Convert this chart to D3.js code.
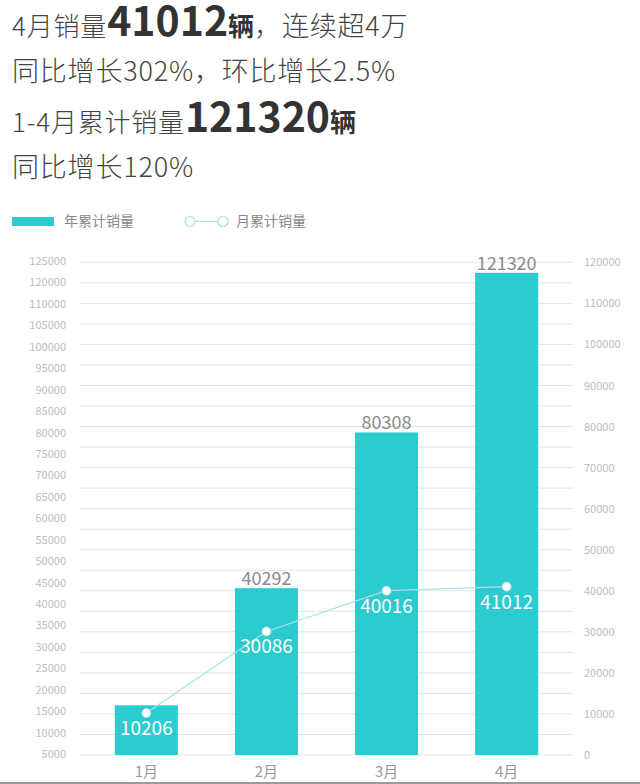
<!DOCTYPE html>
<html>
<head>
<meta charset="utf-8">
<script src="https://cdn.jsdelivr.net/npm/d3@7"></script>
<style>
body { margin: 0; background: #fff; }
text { font-family: "Noto Sans CJK SC", "Noto Sans", sans-serif; }
</style>
</head>
<body>
<script>
var w = 640;
var h = 784;

// data
var months = ["1月", "2月", "3月", "4月"];
var yearTotal = [10206, 40292, 80308, 121320];   // 年累计销量 (bars)
var monthSales = [10206, 30086, 40016, 41012];   // 月累计销量 (line)
var leftTicks = ["125000", "120000", "110000", "105000", "100000", "95000", "90000", "85000",
                 "80000", "75000", "70000", "65000", "60000", "55000", "50000", "45000",
                 "40000", "35000", "30000", "25000", "20000", "15000", "10000", "5000"];
var rightTicks = [0, 10000, 20000, 30000, 40000, 50000, 60000, 70000, 80000, 90000, 100000, 110000, 120000];

var teal = "#2ccbd0";
var lineColor = "#a6e3e4";

var svg = d3.select("body")
            .append("svg")
            .attr("width", w)
            .attr("height", h);

// header text
var head = svg.append("g").attr("fill", "#444");
function headLine(y, parts) {
    var t = head.append("text").attr("x", 12).attr("y", y);
    parts.forEach(function (p) {
        t.append("tspan")
         .attr("font-size", p[1])
         .attr("font-weight", p[2] ? 700 : 300)
         .attr("letter-spacing", p[2] ? 0 : 0.8)
         .attr("fill", p[2] ? "#333" : "#444")
         .text(p[0]);
    });
}
headLine(36, [["4月销量", 26], ["41012", 41, true], ["辆", 26, true], ["，连续超4万", 27]]);
headLine(81, [["同比增长302%，环比增长2.5%", 27]]);
headLine(132, [["1-4月累计销量", 26], ["121320", 41, true], ["辆", 26, true]]);
headLine(177, [["同比增长120%", 27]]);

// legend
var legend = svg.append("g").attr("font-size", 14).attr("fill", "#888");
legend.append("rect").attr("x", 12).attr("y", 217).attr("width", 42).attr("height", 9).attr("fill", teal);
legend.append("text").attr("x", 64).attr("y", 226).text("年累计销量");
legend.append("line").attr("x1", 190).attr("x2", 223).attr("y1", 221.5).attr("y2", 221.5)
      .attr("stroke", lineColor).attr("stroke-width", 1.2);
legend.selectAll("circle")
      .data([190, 223])
      .enter()
      .append("circle")
      .attr("cx", function (d) { return d; })
      .attr("cy", 221.5)
      .attr("r", 5)
      .attr("fill", "#fff")
      .attr("stroke", lineColor)
      .attr("stroke-width", 1.2);
legend.append("text").attr("x", 236).attr("y", 226).text("月累计销量");

// scales
var xScale = d3.scaleBand()
               .domain(months)
               .range([80, 573])
               .paddingInner(0.475)
               .paddingOuter(0.29);
var yRight = d3.scaleLinear()
               .domain([0, 120000])
               .range([755, 262.3]);
var yBar = d3.scaleLinear()          // bars in the picture sit on their own scale
             .domain([0, 120000])
             .range([745, 278]);
var yLeft = d3.scalePoint()
              .domain(leftTicks)
              .range([261, 754]);

// gridlines every 5000 on the right scale
svg.append("g")
   .selectAll("line")
   .data(d3.range(0, 120001, 5000))
   .enter()
   .append("line")
   .attr("x1", 80)
   .attr("x2", 573)
   .attr("y1", function (d) { return yRight(d); })
   .attr("y2", function (d) { return yRight(d); })
   .attr("stroke", "#e3e3e3")
   .attr("stroke-width", 1);

// left axis
var leftAxis = svg.append("g")
   .attr("transform", "translate(66,0)")
   .call(d3.axisLeft(yLeft).tickSize(0).tickPadding(0));
leftAxis.select(".domain").remove();
leftAxis.selectAll("text")
   .attr("font-size", 11)
   .attr("fill", "#bdbdbd")
   .attr("font-family", "'Noto Sans CJK SC', sans-serif");

// right axis
var rightAxis = svg.append("g")
   .attr("transform", "translate(584,0)")
   .call(d3.axisRight(yRight).tickValues(rightTicks).tickFormat(d3.format("d")).tickSize(0).tickPadding(0));
rightAxis.select(".domain").remove();
rightAxis.selectAll("text")
   .attr("font-size", 11)
   .attr("fill", "#bdbdbd")
   .attr("font-family", "'Noto Sans CJK SC', sans-serif");

// bottom axis
var bottomAxis = svg.append("g")
   .attr("transform", "translate(0,766)")
   .call(d3.axisBottom(xScale).tickSize(0).tickPadding(0));
bottomAxis.select(".domain").remove();
bottomAxis.selectAll("text")
   .attr("font-size", 15)
   .attr("fill", "#999")
   .attr("font-family", "'Noto Sans CJK SC', sans-serif");

// bars
svg.selectAll("rect.bar")
   .data(yearTotal)
   .enter()
   .append("rect")
   .attr("class", "bar")
   .attr("x", function (d, i) { return xScale(months[i]); })
   .attr("y", function (d) { return yBar(d); })
   .attr("width", xScale.bandwidth())
   .attr("height", function (d) { return yRight(0) - yBar(d); })
   .style("fill", teal);

// bar labels (skip where the line label already shows the same number)
svg.selectAll("text.barlabel")
   .data(yearTotal)
   .enter()
   .filter(function (d, i) { return d !== monthSales[i]; })
   .append("text")
   .attr("class", "barlabel")
   .attr("x", function (d, i) { return xScale(months[yearTotal.indexOf(d)]) + xScale.bandwidth() / 2; })
   .attr("y", function (d) { return yBar(d) - 3; })
   .attr("text-anchor", "middle")
   .attr("font-size", 18)
   .attr("fill", "#8a8a8a")
   .text(function (d) { return d; });

// month line
var line = d3.line()
             .x(function (d, i) { return xScale(months[i]) + xScale.bandwidth() / 2; })
             .y(function (d) { return yRight(d); });
svg.append("path")
   .datum(monthSales)
   .attr("d", line)
   .attr("fill", "none")
   .attr("stroke", lineColor)
   .attr("stroke-width", 1.2);

svg.selectAll("circle.pt")
   .data(monthSales)
   .enter()
   .append("circle")
   .attr("class", "pt")
   .attr("cx", function (d, i) { return xScale(months[i]) + xScale.bandwidth() / 2; })
   .attr("cy", function (d) { return yRight(d); })
   .attr("r", 4.5)
   .attr("fill", "#fff")
   .attr("stroke", lineColor)
   .attr("stroke-width", 1);

svg.selectAll("text.ptlabel")
   .data(monthSales)
   .enter()
   .append("text")
   .attr("class", "ptlabel")
   .attr("x", function (d, i) { return xScale(months[i]) + xScale.bandwidth() / 2; })
   .attr("y", function (d) { return yRight(d) + 22; })
   .attr("text-anchor", "middle")
   .attr("font-size", 19)
   .attr("fill", "#fff")
   .text(function (d) { return d; });

// thin border at the bottom of the picture
svg.append("line")
   .attr("x1", 0).attr("x2", w)
   .attr("y1", 783).attr("y2", 783)
   .attr("stroke", "#9a9a9a")
   .attr("stroke-width", 2);
</script>
</body>
</html>
